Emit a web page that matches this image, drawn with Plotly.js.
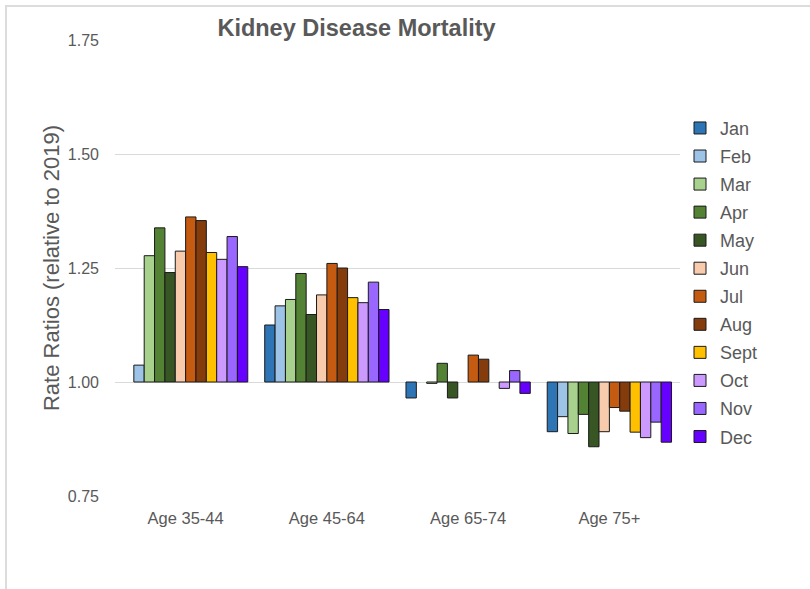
<!DOCTYPE html>
<html>
<head>
<meta charset="utf-8">
<script src="https://cdn.plot.ly/plotly-3.0.1.min.js"></script>
<style>
  html, body { margin: 0; padding: 0; background: #fff; }
  #frame { position: absolute; left: 5px; top: 5px; width: 805px; height: 584px;
           border-left: 2px solid #dcdcdc; border-top: 2px solid #dcdcdc; }
  #chart { position: absolute; left: 0; top: 0; width: 810px; height: 589px; }
</style>
</head>
<body>
<div id="frame"></div>
<div id="chart"></div>
<script>
const categories = ["Age 35-44", "Age 45-64", "Age 65-74", "Age 75+"];
const months = ["Jan", "Feb", "Mar", "Apr", "May", "Jun", "Jul", "Aug", "Sept", "Oct", "Nov", "Dec"];
const colors = ["#2E75B6", "#9DC3E6", "#A9D18E", "#548235", "#375623", "#F8CBAD",
                "#C55A11", "#843C0C", "#FFC000", "#CC99FF", "#9966FF", "#6600FF"];

// rate ratios per month, one value per age group (null = no visible bar, ratio ~1.00)
const jan  = [null,  1.125, 0.965, 0.891];
const feb  = [1.037, 1.167, null,  0.924];
const mar  = [1.277, 1.181, 0.997, 0.887];
const apr  = [1.338, 1.238, 1.041, 0.929];
const may  = [1.240, 1.148, 0.965, 0.858];
const jun  = [1.287, 1.191, null,  0.891];
const jul  = [1.362, 1.260, 1.059, 0.944];
const aug  = [1.354, 1.250, 1.050, 0.936];
const sept = [1.284, 1.185, null,  0.890];
const oct  = [1.269, 1.174, 0.986, 0.878];
const nov  = [1.319, 1.219, 1.025, 0.912];
const dec  = [1.253, 1.159, 0.975, 0.868];

const series = [jan, feb, mar, apr, may, jun, jul, aug, sept, oct, nov, dec];
const baseline = 1.0;

const traces = series.map((vals, i) => ({
  type: "bar",
  name: months[i],
  x: categories,
  y: vals.map(v => (v === null ? null : v - baseline)),
  base: baseline,
  legendgroup: months[i],
  marker: { color: colors[i], line: { color: "#1a1a1a", width: 1 } },
  hoverinfo: "skip"
}));

const grey = "#595959";
const layout = {
  width: 810, height: 589,
  paper_bgcolor: "rgba(0,0,0,0)",
  plot_bgcolor: "rgba(0,0,0,0)",
  margin: { l: 115, r: 130, t: 40, b: 93 },
  font: { family: "Liberation Sans, Arial, sans-serif", color: grey, size: 16 },
  title: {
    text: "<b>Kidney Disease Mortality</b>",
    x: 356.5 / 810, xref: "container", xanchor: "center",
    y: 1 - 28 / 589, yref: "container", yanchor: "middle",
    font: { size: 23.5, color: grey }
  },
  barmode: "group",
  bargap: 0.12,
  bargroupgap: 0,
  xaxis: {
    showgrid: false, zeroline: false, showline: false, ticks: "",
    tickfont: { size: 16.5, color: grey },
    ticklabelstandoff: 10
  },
  yaxis: {
    range: [0.75, 1.75],
    tickvals: [0.75, 1.00, 1.25, 1.50, 1.75],
    ticktext: ["0.75", "1.00", "1.25", "1.50", "1.75"],
    showgrid: true, gridcolor: "#d9d9d9", gridwidth: 1,
    zeroline: false, showline: false, ticks: "",
    tickfont: { size: 16, color: grey },
    ticklabelstandoff: 15,
    title: { text: "Rate Ratios (relative to 2019)", font: { size: 22, color: grey }, standoff: 2 }
  },
  showlegend: true,
  legend: {
    x: 1.0, xanchor: "left", y: 0.847, yanchor: "top",
    font: { size: 18, color: grey },
    tracegroupgap: 1.65,
    itemwidth: 30,
    bgcolor: "rgba(0,0,0,0)"
  }
};

Plotly.newPlot("chart", traces, layout, { displayModeBar: false, staticPlot: true });
</script>
</body>
</html>
